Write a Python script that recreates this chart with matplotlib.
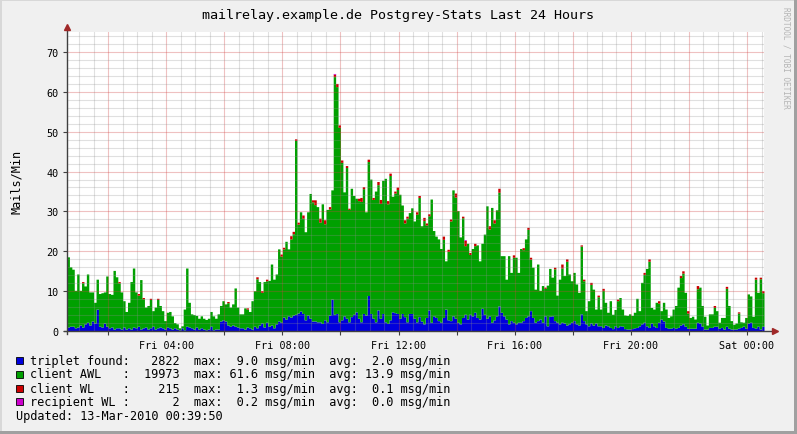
import numpy as np
import matplotlib
matplotlib.use('Agg')
import matplotlib.pyplot as plt
import matplotlib.dates as mdates
from matplotlib.patches import Rectangle
from matplotlib.ticker import MultipleLocator, FuncFormatter
from datetime import datetime, timedelta

plt.rcParams['font.family'] = ['DejaVu Sans Mono']

# 5 minute steps, Fri 00:35 .. Sat 00:35
start = datetime(2010, 3, 12, 0, 35)
step = timedelta(minutes=5)

# msg/min, one row per hour
triplet = [
    1.0, 1.2, 1.2, 0.8, 1.0, 1.5, 1.0, 1.8, 2.2, 1.5, 2.5, 2.0,
    5.5, 1.2, 1.0, 2.0, 1.2, 0.8, 1.0, 0.5, 0.8, 0.8, 0.5, 1.0,
    0.5, 0.8, 0.5, 1.0, 0.8, 1.2, 0.5, 0.8, 1.0, 0.5, 0.8, 1.2,
    0.5, 0.8, 1.0, 0.8, 0.5, 1.0, 0.8, 0.5, 0.8, 0.5, 0.3, 0.8,
    0.3, 1.2, 1.0, 0.8, 0.5, 1.0, 0.5, 0.8, 0.5, 0.3, 0.5, 1.2,
    0.3, 0.5, 0.5, 2.5, 2.8, 2.5, 1.5, 1.2, 1.5, 1.2, 1.0, 0.8,
    0.8, 0.5, 1.0, 0.8, 0.5, 1.2, 0.8, 1.5, 2.0, 1.0, 2.2, 1.2,
    1.5, 0.8, 1.8, 2.5, 2.2, 3.5, 3.0, 3.8, 3.5, 4.0, 4.2, 4.5,
    5.0, 4.4, 2.8, 4.0, 3.2, 2.5, 2.5, 2.3, 2.3, 1.9, 2.8, 2.3,
    4.0, 8.0, 4.2, 4.4, 2.3, 2.8, 3.8, 3.2, 2.3, 3.6, 4.2, 4.8,
    3.2, 2.3, 4.4, 4.0, 8.9, 4.4, 3.2, 2.3, 5.3, 3.2, 4.4, 2.3,
    1.9, 2.8, 4.8, 4.6, 4.4, 3.2, 4.4, 3.6, 2.3, 4.4, 4.4, 3.2,
    2.3, 3.6, 2.5, 1.8, 3.4, 5.3, 2.2, 3.8, 3.4, 2.6, 2.2, 3.4,
    5.5, 2.8, 2.6, 3.8, 3.2, 2.2, 1.8, 3.4, 4.2, 3.0, 4.2, 3.8,
    4.7, 3.4, 3.0, 5.7, 4.2, 3.2, 3.8, 2.2, 2.8, 3.8, 6.3, 4.7,
    3.8, 3.0, 1.8, 2.6, 2.2, 1.8, 2.2, 2.2, 2.6, 3.4, 3.8, 5.1,
    3.4, 2.2, 2.6, 3.0, 2.2, 3.8, 1.3, 3.7, 3.8, 2.6, 2.2, 1.8,
    2.2, 2.0, 1.5, 1.8, 2.2, 2.6, 1.8, 1.5, 4.3, 2.6, 1.8, 1.3,
    2.0, 1.5, 2.0, 1.3, 1.3, 0.9, 1.5, 1.3, 0.9, 0.6, 1.3, 0.9,
    1.3, 1.2, 0.6, 0.5, 0.5, 0.6, 0.8, 0.9, 1.3, 1.8, 2.2, 1.3,
    0.9, 2.0, 1.3, 0.9, 2.2, 3.0, 2.5, 0.9, 0.7, 0.7, 0.9, 0.7,
    0.9, 1.5, 1.8, 1.2, 0.7, 0.7, 0.7, 0.7, 2.2, 2.0, 1.2, 0.5,
    0.5, 0.9, 0.9, 1.2, 1.2, 0.7, 0.9, 0.5, 1.2, 0.7, 0.5, 0.5,
    0.5, 0.7, 0.9, 1.2, 0.7, 2.0, 2.2, 0.9, 0.7, 1.2, 0.5, 1.2,
]

client_awl = [
    17.6, 14.9, 14.3, 9.4, 13.3, 8.7, 11.1, 9.5, 12.1, 8.3, 7.3, 5.2,
    7.5, 8.2, 8.6, 7.8, 12.6, 8.6, 8.2, 14.7, 12.8, 11.3, 9.3, 6.6,
    4.4, 6.4, 11.9, 14.8, 9.0, 7.8, 12.4, 7.3, 5.0, 5.9, 7.1, 3.9,
    5.5, 7.1, 5.4, 4.3, 2.1, 3.7, 4.1, 3.3, 1.3, 1.3, 0.5, 0.5,
    5.2, 14.6, 6.2, 3.5, 3.6, 2.9, 2.7, 3.0, 2.7, 2.6, 2.7, 3.7,
    3.5, 2.7, 3.8, 3.9, 4.8, 4.3, 5.6, 4.8, 5.3, 9.6, 5.0, 3.5,
    3.5, 5.3, 4.5, 4.1, 7.1, 8.9, 12.3, 10.9, 7.7, 11.4, 10.4, 11.5,
    15.3, 12.2, 12.5, 18.1, 16.6, 17.1, 19.5, 16.8, 19.6, 20.4, 43.6, 22.3,
    24.9, 23.9, 22.1, 25.9, 31.3, 29.9, 29.2, 28.9, 25.0, 30.0, 24.1, 28.2,
    26.6, 27.4, 59.6, 56.9, 48.8, 39.5, 31.1, 37.8, 28.2, 32.2, 29.8, 28.5,
    29.5, 30.2, 31.3, 25.9, 33.6, 33.7, 29.8, 32.8, 31.4, 28.8, 33.4, 36.0,
    30.0, 36.2, 29.0, 30.0, 31.1, 31.1, 27.2, 23.5, 26.0, 25.3, 26.5, 24.4,
    27.0, 29.9, 23.9, 25.9, 23.2, 23.6, 30.9, 21.4, 20.4, 20.5, 18.5, 19.6,
    12.1, 17.2, 25.0, 31.6, 30.4, 28.0, 21.8, 25.0, 17.2, 19.0, 15.0, 16.9,
    16.7, 18.2, 14.6, 16.3, 20.1, 28.2, 21.8, 28.8, 24.3, 26.6, 28.5, 14.2,
    15.1, 10.0, 17.1, 12.1, 16.3, 16.7, 12.5, 18.5, 17.8, 19.7, 21.7, 12.9,
    12.6, 8.3, 14.2, 7.2, 9.2, 6.9, 10.2, 12.0, 9.7, 13.0, 6.8, 11.2,
    13.6, 11.9, 16.0, 12.5, 10.4, 12.1, 10.0, 8.2, 17.0, 10.0, 3.3, 6.3,
    9.7, 9.0, 3.5, 7.3, 4.2, 9.3, 5.7, 3.4, 6.7, 3.6, 4.1, 6.7,
    7.1, 4.3, 3.4, 3.4, 3.8, 3.3, 3.9, 7.3, 3.8, 10.4, 12.0, 14.4,
    16.6, 3.9, 4.2, 6.3, 4.8, 2.1, 4.7, 4.6, 2.7, 3.1, 4.6, 5.7,
    10.1, 11.9, 12.7, 8.5, 3.8, 2.7, 3.0, 2.3, 8.4, 9.0, 5.2, 3.2,
    1.0, 3.4, 3.4, 4.7, 3.9, 1.5, 2.5, 2.9, 9.5, 5.7, 2.1, 1.2,
    1.5, 3.8, 1.4, 1.0, 2.7, 7.3, 6.6, 2.8, 12.3, 8.5, 12.6, 8.4,
]

# client WL only shows on a few intervals (interval index, msg/min)
wl_idx = [6, 21, 29, 31, 34, 37,
          66, 74, 78, 80, 82, 88, 89,
          92, 93, 94, 95, 97,
          101, 102, 104, 106, 108,
          110, 111, 112, 113, 115, 116,
          120, 121, 122, 124, 126, 128, 129,
          132, 133, 135, 136, 139, 140,
          144, 145, 147, 148, 149,
          155, 157, 158, 160, 163, 164, 166, 168,
          174, 176, 178,
          184, 188, 190, 191,
          197, 201, 204, 206,
          212, 213, 216, 219, 221, 227,
          238, 240, 244,
          253, 254, 256, 260, 267, 272, 277,
          284, 286, 287]
wl_val = [0.3, 0.3, 0.4, 0.3, 0.3, 0.3,
          0.3, 0.3, 0.5, 0.4, 0.4, 0.5, 0.4,
          0.8, 0.6, 0.4, 0.5, 0.8,
          0.5, 1.2, 1.0, 1.0, 0.6,
          0.6, 0.8, 0.6, 0.6, 0.5, 0.3,
          0.6, 1.0, 0.5, 0.6, 0.5, 0.8, 1.0,
          0.8, 0.6, 0.5, 0.6, 0.8, 0.5,
          0.6, 0.5, 0.8, 0.5, 0.5,
          0.8, 0.5, 0.5, 1.0, 0.4, 1.3, 0.5, 0.6,
          0.8, 0.8, 1.0,
          0.6, 0.5, 0.5, 0.5,
          0.3, 0.4, 1.0, 0.6,
          0.3, 0.4, 0.5, 0.4, 0.5, 0.4,
          0.5, 0.6, 0.6,
          0.5, 0.6, 0.6, 0.8, 0.5, 0.5, 0.3,
          0.5, 0.4, 0.5]

rcpt_idx = [110, 164]
rcpt_val = [0.2, 0.2]

names = ['triplet found', 'client AWL   ', 'client WL    ', 'recipient WL ']
totals = [2822, 19973, 215, 2]
maxes = [9.0, 61.6, 1.3, 0.2]
avgs = [2.0, 13.9, 0.1, 0.0]
colors = ['#0000dd', '#00a000', '#cc0000', '#cc00cc']

title = 'mailrelay.example.de Postgrey-Stats Last 24 Hours'
updated = 'Updated: 13-Mar-2010 00:39:50'

n = len(triplet)
times = [start + i * step for i in range(n + 1)]
client_wl = np.zeros(n)
client_wl[wl_idx] = wl_val
rcpt = np.zeros(n)
rcpt[rcpt_idx] = rcpt_val

W, H = 797, 435
fig = plt.figure(figsize=(W / 100, H / 100), dpi=100, facecolor='#f0f0f0')
ax = fig.add_axes([67 / W, (H - 332) / H, 697 / W, 299 / H])
ax.set_facecolor('white')

# stacked areas, drawn as steps
bottom = np.zeros(n)
for vals, col in zip([triplet, client_awl, client_wl, rcpt], colors):
    top = bottom + np.asarray(vals)
    ax.fill_between(times, np.append(bottom, bottom[-1]), np.append(top, top[-1]),
                    step='post', color=col, lw=0, antialiased=False, zorder=1)
    bottom = top

ax.set_xlim(times[0], times[-1])
ax.set_ylim(0, 75)

def xfmt(v, pos):
    d = mdates.num2date(v)
    return d.strftime('%a %H:%M') if d.hour % 4 == 0 else ''

ax.xaxis.set_major_locator(mdates.HourLocator(byhour=range(0, 24, 2)))
ax.xaxis.set_minor_locator(mdates.MinuteLocator(byminute=[0, 30]))
ax.xaxis.set_major_formatter(FuncFormatter(xfmt))
ax.yaxis.set_major_locator(MultipleLocator(10))
ax.yaxis.set_minor_locator(MultipleLocator(2))

ax.set_axisbelow(False)
ax.grid(which='major', color='#d04040', alpha=0.32, lw=0.8)
ax.grid(which='minor', color='#909090', alpha=0.28, lw=0.8)

for s in ax.spines.values():
    s.set_visible(False)
ax.tick_params(which='major', length=3, width=0.8, color='#404040', labelsize=7.3)
ax.tick_params(which='minor', length=0)
ax.tick_params(axis='y', pad=2.9)
ax.tick_params(axis='x', pad=3.6)

# axis lines with small arrow heads
ax.plot([-3 / 697, 705 / 697], [0, 0], transform=ax.transAxes, color='#404040',
        lw=1, clip_on=False, zorder=5)
ax.plot([708 / 697], [0], transform=ax.transAxes, marker='>', ms=4.5,
        color='#a02828', clip_on=False, zorder=6)
ax.plot([0, 0], [-3 / 299, 302 / 299], transform=ax.transAxes, color='#404040',
        lw=1, clip_on=False, zorder=5)
ax.plot([0], [304 / 299], transform=ax.transAxes, marker='^', ms=4.5,
        color='#a02828', clip_on=False, zorder=6)

fig.text(398 / W, 1 - 16 / H, title, ha='center', va='center', fontsize=9.6)
fig.text(17 / W, 1 - 182 / H, 'Mails/Min', rotation=90, ha='center', va='center',
         fontsize=8.6)
fig.text(786 / W, 1 - 58 / H, 'RRDTOOL / TOBI OETIKER', rotation=270, ha='center',
         va='center', fontsize=5.6, color='#b4b4b4')

# legend
rows_y = [361.7, 375, 389.3, 402.7]
for name, tot, mx, av, col, y in zip(names, totals, maxes, avgs, colors, rows_y):
    fig.add_artist(Rectangle((16 / W, (H - y - 3.5) / H), 7 / W, 7 / H,
                             transform=fig.transFigure, facecolor=col,
                             edgecolor='black', lw=0.6))
    line = '%s:%7d  max:%5.1f msg/min  avg:%5.1f msg/min' % (name, tot, mx, av)
    fig.text(30 / W, 1 - y / H, line, va='center', fontsize=8.6)
fig.text(16 / W, 1 - 417 / H, updated, va='center', fontsize=8.6)

# 3d frame
fig.add_artist(Rectangle((0, 1 - 2 / H), 1, 2 / H, transform=fig.transFigure,
                         color='#d8d8d8', lw=0))
fig.add_artist(Rectangle((0, 0), 2 / W, 1, transform=fig.transFigure,
                         color='#d8d8d8', lw=0))
fig.add_artist(Rectangle((0, 0), 1, 3 / H, transform=fig.transFigure,
                         color='#a0a0a0', lw=0))
fig.add_artist(Rectangle((1 - 3 / W, 0), 3 / W, 1, transform=fig.transFigure,
                         color='#a0a0a0', lw=0))

fig.savefig('out.png', dpi=100, facecolor=fig.get_facecolor())
